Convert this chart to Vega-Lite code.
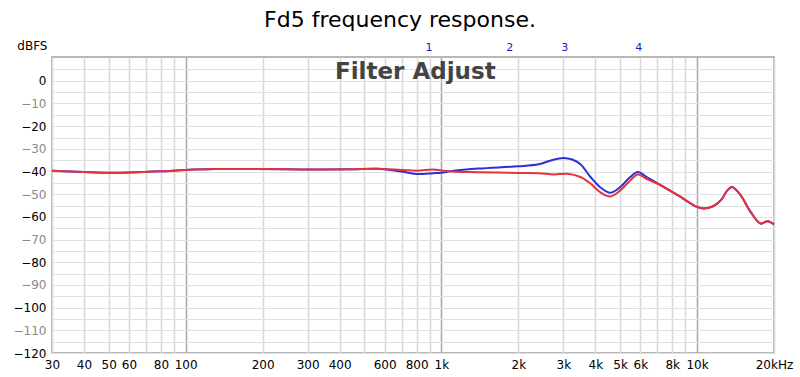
{
  "$schema": "https://vega.github.io/schema/vega-lite/v6.json",
  "autosize": "none",
  "width": 722,
  "height": 296,
  "padding": {"left": 52, "top": 57, "right": 26, "bottom": 24},
  "background": "white",
  "title": {"text": "Fd5 frequency response.", "font": "DejaVu Sans", "fontSize": 22, "fontWeight": "normal", "color": "#000", "anchor": "middle", "dx": -13, "offset": 7},
  "config": {
    "view": {"stroke": "#a0a0a0", "strokeWidth": 1.5},
    "font": "DejaVu Sans"
  },
  "data": {"values": [
    {"s": "blue", "f": 30, "dB": -39.7}, {"s": "blue", "f": 40, "dB": -40.2}, {"s": "blue", "f": 50, "dB": -40.5}, {"s": "blue", "f": 60, "dB": -40.4}, {"s": "blue", "f": 80, "dB": -39.9}, {"s": "blue", "f": 100, "dB": -39.3}, {"s": "blue", "f": 130, "dB": -38.9}, {"s": "blue", "f": 180, "dB": -38.9}, {"s": "blue", "f": 250, "dB": -39.0}, {"s": "blue", "f": 350, "dB": -39.1}, {"s": "blue", "f": 450, "dB": -39.0}, {"s": "blue", "f": 560, "dB": -38.8}, {"s": "blue", "f": 700, "dB": -40.0}, {"s": "blue", "f": 805, "dB": -41.1}, {"s": "blue", "f": 930, "dB": -40.7}, {"s": "blue", "f": 1000, "dB": -40.5}, {"s": "blue", "f": 1100, "dB": -39.8}, {"s": "blue", "f": 1400, "dB": -38.7}, {"s": "blue", "f": 2000, "dB": -37.7}, {"s": "blue", "f": 2400, "dB": -36.8}, {"s": "blue", "f": 2700, "dB": -35.0}, {"s": "blue", "f": 3000, "dB": -34.0}, {"s": "blue", "f": 3250, "dB": -34.7}, {"s": "blue", "f": 3500, "dB": -36.8}, {"s": "blue", "f": 3830, "dB": -42.4}, {"s": "blue", "f": 4190, "dB": -47.0}, {"s": "blue", "f": 4580, "dB": -49.4}, {"s": "blue", "f": 5010, "dB": -46.8}, {"s": "blue", "f": 5480, "dB": -42.4}, {"s": "blue", "f": 5870, "dB": -40.2}, {"s": "blue", "f": 6430, "dB": -42.8}, {"s": "blue", "f": 7040, "dB": -45.3}, {"s": "blue", "f": 8400, "dB": -50.4}, {"s": "blue", "f": 10000, "dB": -55.6}, {"s": "blue", "f": 10600, "dB": -56.3}, {"s": "blue", "f": 11500, "dB": -55.4}, {"s": "blue", "f": 12400, "dB": -52.6}, {"s": "blue", "f": 13100, "dB": -48.5}, {"s": "blue", "f": 13700, "dB": -46.8}, {"s": "blue", "f": 14800, "dB": -50.4}, {"s": "blue", "f": 16200, "dB": -57.8}, {"s": "blue", "f": 17700, "dB": -62.9}, {"s": "blue", "f": 18900, "dB": -61.9}, {"s": "blue", "f": 20000, "dB": -63.3},
    {"s": "red", "f": 30, "dB": -39.7}, {"s": "red", "f": 40, "dB": -40.2}, {"s": "red", "f": 50, "dB": -40.5}, {"s": "red", "f": 60, "dB": -40.4}, {"s": "red", "f": 80, "dB": -39.9}, {"s": "red", "f": 100, "dB": -39.3}, {"s": "red", "f": 130, "dB": -38.9}, {"s": "red", "f": 180, "dB": -38.9}, {"s": "red", "f": 250, "dB": -39.0}, {"s": "red", "f": 350, "dB": -39.1}, {"s": "red", "f": 450, "dB": -39.0}, {"s": "red", "f": 560, "dB": -38.8}, {"s": "red", "f": 700, "dB": -39.3}, {"s": "red", "f": 800, "dB": -39.6}, {"s": "red", "f": 930, "dB": -39.1}, {"s": "red", "f": 1000, "dB": -39.5}, {"s": "red", "f": 1100, "dB": -40.0}, {"s": "red", "f": 1400, "dB": -40.3}, {"s": "red", "f": 2000, "dB": -40.6}, {"s": "red", "f": 2400, "dB": -40.7}, {"s": "red", "f": 2750, "dB": -41.3}, {"s": "red", "f": 3100, "dB": -41.0}, {"s": "red", "f": 3500, "dB": -42.4}, {"s": "red", "f": 3830, "dB": -45.3}, {"s": "red", "f": 4190, "dB": -49.2}, {"s": "red", "f": 4580, "dB": -51.0}, {"s": "red", "f": 5010, "dB": -48.3}, {"s": "red", "f": 5480, "dB": -43.9}, {"s": "red", "f": 5870, "dB": -41.3}, {"s": "red", "f": 6430, "dB": -43.6}, {"s": "red", "f": 7040, "dB": -45.5}, {"s": "red", "f": 8400, "dB": -50.4}, {"s": "red", "f": 10000, "dB": -55.6}, {"s": "red", "f": 10600, "dB": -56.3}, {"s": "red", "f": 11500, "dB": -55.4}, {"s": "red", "f": 12400, "dB": -52.6}, {"s": "red", "f": 13100, "dB": -48.5}, {"s": "red", "f": 13700, "dB": -46.8}, {"s": "red", "f": 14800, "dB": -50.4}, {"s": "red", "f": 16200, "dB": -57.8}, {"s": "red", "f": 17700, "dB": -62.9}, {"s": "red", "f": 18900, "dB": -61.9}, {"s": "red", "f": 20000, "dB": -63.3}
  ]},
  "encoding": {
    "x": {"field": "f", "type": "quantitative",
      "scale": {"type": "log", "domain": [30, 20000], "nice": false},
      "axis": {
        "title": null, "domain": false, "ticks": false,
        "values": [30, 40, 50, 60, 70, 80, 90, 100, 200, 300, 400, 500, 600, 700, 800, 900, 1000, 2000, 3000, 4000, 5000, 6000, 7000, 8000, 9000, 10000, 20000],
        "labelExpr": "datum.value == 20000 ? '20kHz' : (indexof([30,40,50,60,80,100,200,300,400,600,800,1000,2000,3000,4000,5000,6000,8000,10000], datum.value) >= 0 ? (datum.value >= 1000 ? (datum.value/1000) + 'k' : '' + datum.value) : '')",
        "labelFont": "DejaVu Sans", "labelFontSize": 12, "labelColor": "#000",
        "labelPadding": 6, "labelOverlap": false, "labelBound": false, "labelFlush": false,
        "grid": true, "gridWidth": 1.5,
        "gridColor": {"condition": {"test": "datum.value == 100 || datum.value == 1000 || datum.value == 10000", "value": "#a8a8a8"}, "value": "#d8d8d8"}
      }
    },
    "y": {"field": "dB", "type": "quantitative",
      "scale": {"domain": [-120, 10.5], "nice": false, "zero": false},
      "axis": {
        "title": "dBFS", "titleAngle": 0, "titleAlign": "right", "titleBaseline": "alphabetic", "titleX": -5, "titleY": -8,
        "titleFont": "DejaVu Sans", "titleFontSize": 12, "titleFontWeight": "normal", "titleColor": "#000",
        "domain": false, "ticks": false,
        "values": [-120, -115, -110, -105, -100, -95, -90, -85, -80, -75, -70, -65, -60, -55, -50, -45, -40, -35, -30, -25, -20, -15, -10, -5, 0, 5],
        "labelExpr": "datum.value % 10 === 0 && datum.value <= 0 ? datum.label : ''",
        "labelFont": "DejaVu Sans", "labelFontSize": 12, "labelPadding": 6,
        "labelColor": {"condition": {"test": "datum.value % 20 === 0", "value": "#000"}, "value": "#8a8a8a"},
        "grid": true, "gridColor": "#e0e0e0", "gridWidth": 1
      }
    }
  },
  "layer": [
    {
      "transform": [{"filter": "datum.s === 'blue'"}],
      "mark": {"type": "line", "interpolate": "catmull-rom", "stroke": "#2f2fd8", "strokeWidth": 2}
    },
    {
      "transform": [{"filter": "datum.s === 'red'"}],
      "mark": {"type": "line", "interpolate": "catmull-rom", "stroke": "#e6333b", "strokeWidth": 2}
    },
    {
      "data": {"values": [{"f": 791, "dB": 0.66, "t": "Filter Adjust"}]},
      "mark": {"type": "text", "font": "DejaVu Sans", "fontSize": 23, "fontWeight": "bold", "color": "#444444", "align": "center", "baseline": "alphabetic"},
      "encoding": {"text": {"field": "t"}}
    },
    {
      "data": {"values": [{"f": 895, "dB": 13.1, "t": "1"}, {"f": 1850, "dB": 13.1, "t": "2"}, {"f": 3038, "dB": 13.1, "t": "3"}, {"f": 5917, "dB": 13.1, "t": "4"}]},
      "mark": {"type": "text", "font": "DejaVu Sans", "fontSize": 11, "color": "#1a1acc", "align": "center", "baseline": "alphabetic", "clip": false},
      "encoding": {"text": {"field": "t"}}
    }
  ]
}
